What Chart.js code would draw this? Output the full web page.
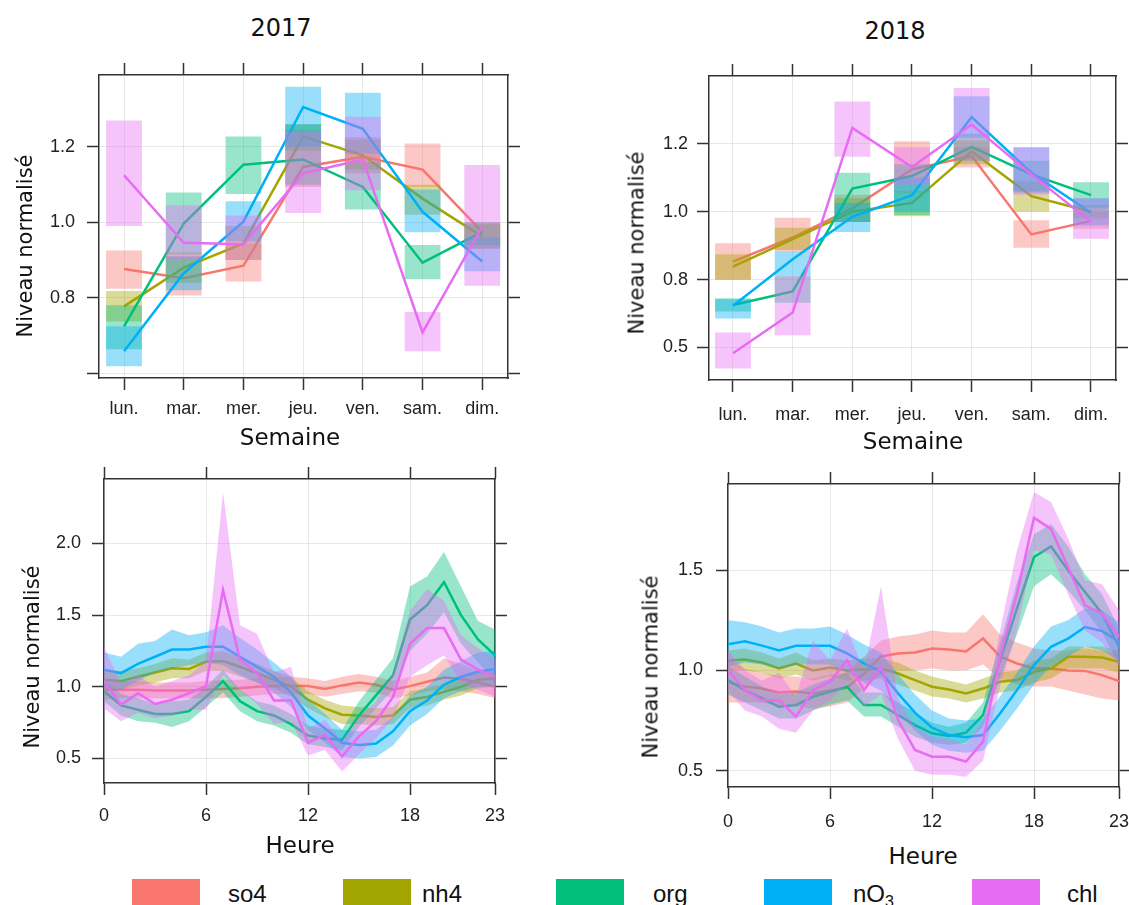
<!DOCTYPE html>
<html>
<head>
<meta charset="utf-8">
<script src="https://cdn.jsdelivr.net/npm/chart.js@4.4.1/dist/chart.umd.min.js"></script>
<style>
  body { margin: 0; background: #fff; width: 1129px; height: 905px; overflow: hidden; position: relative; }
  canvas { position: absolute; }
  .lbl { position: absolute; white-space: nowrap; color: #111; font-family: "DejaVu Sans", sans-serif; transform: translate(-50%, -50%); line-height: 1; }
  .ylab { transform: translate(-50%, -50%) rotate(-90deg); font-size: 21px; }
  .xlab { font-size: 23px; }
  .ttl { font-size: 24px; }
  .lgbox { position: absolute; top: 879px; width: 68px; height: 30px; }
  .lgtxt { position: absolute; top: 882px; font-family: "Liberation Sans", sans-serif; font-size: 24px; line-height: 24px; color: #111; }
  .lgtxt sub { font-size: 16px; vertical-align: -5px; }
</style>
</head>
<body>
<canvas id="sem17"></canvas>
<canvas id="sem18"></canvas>
<canvas id="heure17"></canvas>
<canvas id="heure18"></canvas>

<div class="lbl ttl" style="left:281px; top:28px;">2017</div>
<div class="lbl ttl" style="left:895px; top:31px;">2018</div>
<div class="lbl ylab" style="left:25px; top:246px;">Niveau normalisé</div>
<div class="lbl ylab" style="left:637px; top:243px;">Niveau normalisé</div>
<div class="lbl ylab" style="left:32px; top:657px;">Niveau normalisé</div>
<div class="lbl ylab" style="left:651px; top:667px;">Niveau normalisé</div>
<div class="lbl xlab" style="left:290px; top:437px;">Semaine</div>
<div class="lbl xlab" style="left:913px; top:441px;">Semaine</div>
<div class="lbl xlab" style="left:300px; top:845px;">Heure</div>
<div class="lbl xlab" style="left:923px; top:856px;">Heure</div>
<div id="legende"></div>

<script>
// séries
const seriesNames = ['so4', 'nh4', 'org', 'nO<sub>3</sub>', 'chl'];
const colors = ['#F8766D', '#A3A500', '#00BF7D', '#00B0F6', '#E76BF3'];

// --- semaine ---
const jours = ['lun.', 'mar.', 'mer.', 'jeu.', 'ven.', 'sam.', 'dim.'];
const joursIdx = [0, 1, 2, 3, 4, 5, 6];

// 2017 semaine : moyenne, bas, haut
const so4Sem17 = [0.876, 0.852, 0.885, 1.147, 1.174, 1.140, 0.975];
const so4Sem17Lo = [0.824, 0.806, 0.843, 1.094, 1.130, 1.094, 0.930];
const so4Sem17Hi = [0.925, 0.909, 0.944, 1.246, 1.226, 1.209, 1.000];
const nh4Sem17 = [0.777, 0.880, 0.944, 1.228, 1.178, 1.063, 0.962];
const nh4Sem17Lo = [0.737, 0.840, 0.900, 1.190, 1.140, 1.020, 0.930];
const nh4Sem17Hi = [0.818, 0.920, 0.990, 1.260, 1.220, 1.100, 0.995];
const orgSem17 = [0.724, 0.997, 1.153, 1.167, 1.094, 0.893, 0.975];
const orgSem17Lo = [0.663, 0.915, 1.075, 1.100, 1.034, 0.849, 0.940];
const orgSem17Hi = [0.780, 1.079, 1.228, 1.260, 1.160, 0.940, 1.000];
const no3Sem17 = [0.658, 0.865, 1.002, 1.306, 1.248, 1.028, 0.896];
const no3Sem17Lo = [0.618, 0.820, 0.949, 1.200, 1.182, 0.974, 0.870];
const no3Sem17Hi = [0.724, 0.910, 1.056, 1.360, 1.344, 1.087, 0.960];
const chlSem17 = [1.125, 0.946, 0.942, 1.130, 1.167, 0.708, 0.989];
const chlSem17Lo = [0.990, 0.900, 0.900, 1.025, 1.085, 0.658, 0.832];
const chlSem17Hi = [1.270, 1.045, 1.018, 1.240, 1.280, 0.762, 1.152];

// 2018 semaine
const so4Sem18 = [0.853, 0.924, 1.010, 1.125, 1.164, 0.933, 0.973];
const so4Sem18Lo = [0.799, 0.884, 0.970, 1.056, 1.130, 0.894, 0.950];
const so4Sem18Hi = [0.907, 0.982, 1.050, 1.208, 1.190, 0.975, 1.000];
const nh4Sem18 = [0.838, 0.919, 1.000, 1.026, 1.178, 1.046, 1.000];
const nh4Sem18Lo = [0.800, 0.887, 0.970, 0.987, 1.140, 1.000, 0.980];
const nh4Sem18Hi = [0.875, 0.953, 1.040, 1.060, 1.210, 1.090, 1.020];
const orgSem18 = [0.725, 0.765, 1.068, 1.105, 1.191, 1.110, 1.049];
const orgSem18Lo = [0.706, 0.732, 0.970, 0.990, 1.150, 1.060, 1.012];
const orgSem18Hi = [0.745, 0.810, 1.115, 1.140, 1.230, 1.150, 1.087];
const no3Sem18 = [0.723, 0.860, 0.985, 1.049, 1.279, 1.115, 0.997];
const no3Sem18Lo = [0.685, 0.810, 0.940, 1.000, 1.218, 1.056, 0.960];
const no3Sem18Hi = [0.742, 0.884, 1.026, 1.100, 1.340, 1.190, 1.040];
const chlSem18 = [0.583, 0.703, 1.247, 1.132, 1.257, 1.110, 0.970];
const chlSem18Lo = [0.538, 0.636, 1.162, 1.080, 1.150, 1.050, 0.920];
const chlSem18Hi = [0.644, 0.810, 1.325, 1.190, 1.365, 1.190, 1.040];

// --- heure ---
const heures = [0, 1, 2, 3, 4, 5, 6, 7, 8, 9, 10, 11, 12, 13, 14, 15, 16, 17, 18, 19, 20, 21, 22, 23];
const heureTicks = [0, 6, 12, 18, 23];

// 2017 heure
const so4H17 = [0.98, 0.98, 0.98, 0.975, 0.975, 0.975, 0.98, 0.985, 0.99, 1.0, 1.005, 1.007, 1.005, 0.985, 1.01, 1.03, 1.015, 0.98, 1.005, 1.035, 1.065, 1.055, 1.03, 1.0];
const so4H17Lo = [0.91, 0.92, 0.92, 0.92, 0.92, 0.92, 0.92, 0.92, 0.93, 0.94, 0.95, 0.95, 0.95, 0.93, 0.95, 0.97, 0.96, 0.92, 0.94, 0.97, 0.98, 0.97, 0.95, 0.92];
const so4H17Hi = [1.05, 1.04, 1.04, 1.03, 1.03, 1.03, 1.04, 1.05, 1.05, 1.06, 1.07, 1.07, 1.06, 1.04, 1.07, 1.09, 1.07, 1.04, 1.07, 1.1, 1.2, 1.16, 1.11, 1.08];
const nh4H17 = [1.05, 1.04, 1.07, 1.1, 1.13, 1.125, 1.175, 1.18, 1.14, 1.095, 1.05, 1.0, 0.91, 0.85, 0.805, 0.8, 0.79, 0.8, 0.91, 0.93, 0.965, 1.0, 1.05, 1.06];
const nh4H17Lo = [0.98, 0.98, 1.01, 1.03, 1.06, 1.06, 1.11, 1.11, 1.07, 1.03, 0.99, 0.93, 0.85, 0.79, 0.74, 0.74, 0.73, 0.74, 0.85, 0.87, 0.91, 0.94, 0.99, 1.0];
const nh4H17Hi = [1.12, 1.11, 1.13, 1.16, 1.2, 1.19, 1.24, 1.25, 1.21, 1.16, 1.11, 1.07, 0.97, 0.91, 0.87, 0.86, 0.85, 0.86, 0.97, 0.99, 1.02, 1.06, 1.11, 1.12];
const orgH17 = [0.97, 0.87, 0.84, 0.81, 0.81, 0.83, 0.93, 1.04, 0.9, 0.83, 0.8, 0.74, 0.66, 0.64, 0.63, 0.8, 0.94, 1.08, 1.47, 1.57, 1.73, 1.5, 1.33, 1.22];
const orgH17Lo = [0.9, 0.8, 0.76, 0.75, 0.72, 0.76, 0.86, 0.96, 0.83, 0.76, 0.73, 0.68, 0.6, 0.58, 0.56, 0.72, 0.85, 0.98, 1.25, 1.37, 1.52, 1.3, 1.17, 1.05];
const orgH17Hi = [1.05, 0.95, 0.92, 0.88, 0.9, 0.91, 1.0, 1.12, 0.98, 0.9, 0.87, 0.81, 0.73, 0.71, 0.7, 0.9, 1.05, 1.2, 1.7, 1.77, 1.94, 1.7, 1.46, 1.4];
const no3H17 = [1.12, 1.095, 1.16, 1.21, 1.26, 1.26, 1.28, 1.28, 1.21, 1.14, 1.07, 0.96, 0.8, 0.71, 0.61, 0.595, 0.605, 0.69, 0.83, 0.905, 1.015, 1.07, 1.105, 1.125];
const no3H17Lo = [1.0, 0.98, 1.04, 1.1, 1.13, 1.15, 1.17, 1.15, 1.08, 1.03, 0.96, 0.86, 0.7, 0.61, 0.51, 0.5, 0.51, 0.59, 0.73, 0.81, 0.92, 0.97, 1.0, 1.0];
const no3H17Hi = [1.24, 1.21, 1.3, 1.32, 1.4, 1.36, 1.38, 1.43, 1.34, 1.26, 1.17, 1.07, 0.91, 0.81, 0.7, 0.69, 0.7, 0.79, 0.94, 1.0, 1.12, 1.18, 1.24, 1.25];
const chlH17 = [1.04, 0.875, 0.955, 0.88, 0.91, 0.955, 1.005, 1.675, 1.19, 1.095, 0.905, 0.905, 0.61, 0.665, 0.513, 0.655, 0.76, 0.93, 1.3, 1.41, 1.41, 1.19, 1.12, 1.07];
const chlH17Lo = [0.85, 0.76, 0.82, 0.78, 0.8, 0.84, 0.84, 1.08, 0.98, 0.88, 0.74, 0.76, 0.52, 0.56, 0.41, 0.53, 0.64, 0.78, 1.07, 1.15, 1.22, 1.03, 0.98, 0.93];
const chlH17Hi = [1.28, 1.02, 1.08, 1.0, 1.04, 1.08, 1.18, 2.36, 1.43, 1.37, 1.1, 1.14, 0.71, 0.77, 0.62, 0.79, 0.9, 1.1, 1.53, 1.68, 1.6, 1.36, 1.27, 1.2];

// 2018 heure
const so4H18 = [0.94, 0.92, 0.91, 0.89, 0.895, 0.885, 0.9, 0.915, 0.985, 1.07, 1.085, 1.09, 1.11, 1.105, 1.095, 1.16, 1.07, 1.035, 1.01, 1.01, 1.0, 0.998, 0.977, 0.947];
const so4H18Lo = [0.84, 0.84, 0.84, 0.82, 0.82, 0.81, 0.82, 0.84, 0.91, 0.98, 1.0, 1.0, 1.01, 1.0, 1.0, 1.03, 0.96, 0.93, 0.92, 0.92, 0.9, 0.88, 0.86, 0.85];
const so4H18Hi = [1.06, 1.01, 0.99, 0.97, 0.97, 0.96, 0.98, 0.99, 1.07, 1.15, 1.17, 1.18, 1.2, 1.19, 1.19, 1.28, 1.18, 1.14, 1.11, 1.1, 1.1, 1.11, 1.1, 1.08];
const nh4H18 = [1.05, 1.055, 1.04, 1.01, 1.035, 1.0, 1.015, 1.0, 1.005, 1.01, 0.985, 0.952, 0.919, 0.905, 0.886, 0.91, 0.944, 0.952, 0.993, 1.01, 1.068, 1.068, 1.065, 1.043];
const nh4H18Lo = [1.0, 1.0, 0.99, 0.96, 0.98, 0.95, 0.97, 0.95, 0.95, 0.96, 0.93, 0.9, 0.87, 0.86, 0.84, 0.86, 0.89, 0.9, 0.94, 0.96, 1.01, 1.01, 1.01, 0.99];
const nh4H18Hi = [1.1, 1.11, 1.09, 1.06, 1.09, 1.05, 1.06, 1.05, 1.06, 1.06, 1.04, 1.0, 0.97, 0.95, 0.93, 0.96, 0.99, 1.0, 1.05, 1.06, 1.12, 1.12, 1.12, 1.1];
const orgH18 = [0.952, 0.902, 0.861, 0.819, 0.828, 0.869, 0.894, 0.919, 0.828, 0.828, 0.778, 0.728, 0.687, 0.673, 0.69, 0.778, 1.05, 1.31, 1.566, 1.619, 1.5, 1.391, 1.284, 1.118];
const orgH18Lo = [0.88, 0.84, 0.8, 0.76, 0.76, 0.8, 0.83, 0.85, 0.77, 0.77, 0.72, 0.67, 0.64, 0.63, 0.64, 0.72, 0.96, 1.18, 1.42, 1.48, 1.4, 1.3, 1.19, 1.03];
const orgH18Hi = [1.02, 0.97, 0.92, 0.88, 0.89, 0.93, 0.96, 0.99, 0.89, 0.89, 0.84, 0.79, 0.74, 0.72, 0.74, 0.84, 1.14, 1.44, 1.68, 1.73, 1.62, 1.48, 1.38, 1.21];
const no3H18 = [1.131, 1.146, 1.124, 1.1, 1.123, 1.123, 1.123, 1.085, 1.035, 0.993, 0.886, 0.79, 0.715, 0.678, 0.667, 0.678, 0.786, 0.902, 1.027, 1.118, 1.159, 1.217, 1.197, 1.143];
const no3H18Lo = [1.02, 1.04, 1.03, 1.01, 1.03, 1.03, 1.03, 0.99, 0.94, 0.9, 0.79, 0.7, 0.63, 0.6, 0.59, 0.6, 0.7, 0.81, 0.93, 1.02, 1.07, 1.12, 1.1, 1.05];
const no3H18Hi = [1.25, 1.24, 1.22, 1.19, 1.21, 1.21, 1.22, 1.18, 1.13, 1.09, 0.98, 0.88, 0.8, 0.76, 0.75, 0.76, 0.87, 0.99, 1.12, 1.22, 1.25, 1.31, 1.3, 1.24];
const chlH18 = [1.0, 0.902, 0.852, 0.852, 0.77, 0.902, 0.944, 1.051, 0.902, 1.018, 0.753, 0.604, 0.57, 0.57, 0.546, 0.645, 1.068, 1.383, 1.761, 1.706, 1.516, 1.325, 1.284, 1.167];
const chlH18Lo = [0.9, 0.8, 0.77, 0.71, 0.69, 0.8, 0.85, 0.93, 0.82, 0.88, 0.66, 0.5, 0.48, 0.48, 0.47, 0.55, 0.92, 1.2, 1.6, 1.58, 1.38, 1.2, 1.14, 1.02];
const chlH18Hi = [1.1, 1.0, 0.95, 0.99, 0.87, 1.15, 1.05, 1.21, 1.0, 1.42, 0.86, 0.72, 0.67, 0.66, 0.63, 0.75, 1.2, 1.6, 1.89, 1.84, 1.66, 1.45, 1.43, 1.3];

// graduations de l'axe y
const ySem17Ticks = [0.6, 0.8, 1.0, 1.2];
const ySem17Labels = ['', '0.8', '1.0', '1.2'];
const ySem18Ticks = [0.6, 0.8, 1.0, 1.2];
const ySem18Labels = ['0.5', '0.8', '1.0', '1.2'];
const yH17Ticks = [0.5, 1.0, 1.5, 2.0];
const yH17Labels = ['0.5', '1.0', '1.5', '2.0'];
const yH18Ticks = [0.5, 1.0, 1.5];
const yH18Labels = ['0.5', '1.0', '1.5'];

function fade(hex) {
    const n = parseInt(hex.slice(1), 16);
    return 'rgba(' + (n >> 16) + ',' + ((n >> 8) & 255) + ',' + (n & 255) + ',0.4)';
}

function semaineSets(means, lows, highs) {
    const sets = [];
    means.forEach((m, s) => {
        sets.push({
            type: 'bar',
            data: joursIdx.map(i => ({x: i, y: [lows[s][i], highs[s][i]]})),
            backgroundColor: fade(colors[s]),
            borderWidth: 0,
            grouped: false,
            barPercentage: 0.6,
            categoryPercentage: 1,
            order: -sets.length
        });
        sets.push({
            type: 'line',
            data: joursIdx.map(i => ({x: i, y: m[i]})),
            borderColor: colors[s],
            borderWidth: 2.5,
            pointRadius: 0,
            fill: false,
            order: -sets.length
        });
    });
    return sets;
}

function heureSets(means, lows, highs) {
    const sets = [];
    means.forEach((m, s) => {
        // bande haut -> remplie jusqu'a la bande bas
        sets.push({
            data: heures.map(h => ({x: h, y: highs[s][h]})),
            borderColor: 'transparent', borderWidth: 0, pointRadius: 0,
            fill: '+1', backgroundColor: fade(colors[s]),
            order: -sets.length
        });
        sets.push({
            data: heures.map(h => ({x: h, y: lows[s][h]})),
            borderColor: 'transparent', borderWidth: 0, pointRadius: 0,
            fill: false,
            order: -sets.length
        });
        sets.push({
            data: heures.map(h => ({x: h, y: m[h]})),
            borderColor: colors[s], borderWidth: 2.5, pointRadius: 0,
            fill: false,
            order: -sets.length
        });
    });
    return sets;
}

const axisCol = '#333';
const gridCol = 'rgba(0,0,0,0.09)';
const tickFont = {family: 'Liberation Sans', size: 18};

function panneau(id, area, cfg) {
    const wL = 90, hT = 14, wR = 14, hB = 50;
    const cv = document.getElementById(id);
    const w = area.r - area.l + wL + wR;
    const h = area.b - area.t + hT + hB;
    cv.style.left = (area.l - wL) + 'px';
    cv.style.top = (area.t - hT) + 'px';
    cv.width = w; cv.height = h;
    cv.style.width = w + 'px'; cv.style.height = h + 'px';

    const setX = s => { s.ticks = cfg.xTicks.map(v => ({value: v})); };
    const setY = s => { s.ticks = cfg.yTicks.map(v => ({value: v})); };
    // tailles fixes, sans marge ajoutée par les étiquettes
    const fitH = size => s => { s.height = size; s.paddingLeft = 0; s.paddingRight = 0; };
    const fitW = size => s => { s.width = size; s.paddingTop = 0; s.paddingBottom = 0; };
    const tickMarks = {drawOnChartArea: false, offset: false, tickColor: axisCol, tickLength: 12, tickWidth: 1.5};
    const bord = {color: axisCol, width: 1.5};

    return new Chart(cv, {
        type: 'line',
        data: {datasets: cfg.datasets},
        options: {
            responsive: false,
            animation: false,
            events: [],
            layout: {padding: 0},
            plugins: {legend: {display: false}, tooltip: {enabled: false}},
            scales: {
                x: {
                    type: 'linear', position: 'bottom', min: cfg.xMin, max: cfg.xMax, offset: false,
                    afterBuildTicks: setX,
                    afterFit: fitH(hB),
                    ticks: {callback: cfg.xLabel, font: tickFont, color: '#222', padding: cfg.xPad, maxRotation: 0, autoSkip: false},
                    grid: {color: gridCol, lineWidth: 1, offset: false, tickColor: axisCol, tickLength: 12, tickWidth: 1.5},
                    border: bord
                },
                x2: {
                    type: 'linear', position: 'top', min: cfg.xMin, max: cfg.xMax, offset: false,
                    afterBuildTicks: setX,
                    afterFit: fitH(hT),
                    ticks: {display: false},
                    grid: tickMarks,
                    border: bord
                },
                y: {
                    type: 'linear', position: 'left', min: cfg.yMin, max: cfg.yMax, offset: false,
                    afterBuildTicks: setY,
                    afterFit: fitW(wL),
                    ticks: {callback: (v, i) => cfg.yLabels[i], font: tickFont, color: '#222', padding: cfg.yPad},
                    grid: {color: gridCol, lineWidth: 1, offset: false, tickColor: axisCol, tickLength: 12, tickWidth: 1.5},
                    border: bord
                },
                y2: {
                    type: 'linear', position: 'right', min: cfg.yMin, max: cfg.yMax, offset: false,
                    afterBuildTicks: setY,
                    afterFit: fitW(wR),
                    ticks: {display: false},
                    grid: tickMarks,
                    border: bord
                }
            }
        }
    });
}

panneau('sem17', {l: 99, t: 75, r: 508, b: 378}, {
    datasets: semaineSets(
        [so4Sem17, nh4Sem17, orgSem17, no3Sem17, chlSem17],
        [so4Sem17Lo, nh4Sem17Lo, orgSem17Lo, no3Sem17Lo, chlSem17Lo],
        [so4Sem17Hi, nh4Sem17Hi, orgSem17Hi, no3Sem17Hi, chlSem17Hi]),
    xMin: -0.419, xMax: 6.431, xTicks: joursIdx, xLabel: v => jours[v], xPad: 8,
    yMin: 0.587, yMax: 1.391, yTicks: ySem17Ticks, yLabels: ySem17Labels, yPad: 12
});

panneau('sem18', {l: 709, t: 76, r: 1116, b: 380}, {
    datasets: semaineSets(
        [so4Sem18, nh4Sem18, orgSem18, no3Sem18, chlSem18],
        [so4Sem18Lo, nh4Sem18Lo, orgSem18Lo, no3Sem18Lo, chlSem18Lo],
        [so4Sem18Hi, nh4Sem18Hi, orgSem18Hi, no3Sem18Hi, chlSem18Hi]),
    xMin: -0.402, xMax: 6.419, xTicks: joursIdx, xLabel: v => jours[v], xPad: 12,
    yMin: 0.504, yMax: 1.400, yTicks: ySem18Ticks, yLabels: ySem18Labels, yPad: 9
});

panneau('heure17', {l: 104, t: 479, r: 495, b: 783}, {
    datasets: heureSets(
        [so4H17, nh4H17, orgH17, no3H17, chlH17],
        [so4H17Lo, nh4H17Lo, orgH17Lo, no3H17Lo, chlH17Lo],
        [so4H17Hi, nh4H17Hi, orgH17Hi, no3H17Hi, chlH17Hi]),
    xMin: 0, xMax: 23, xTicks: heureTicks, xLabel: v => String(v), xPad: 10,
    yMin: 0.329, yMax: 2.45, yTicks: yH17Ticks, yLabels: yH17Labels, yPad: 11
});

panneau('heure18', {l: 728, t: 484, r: 1119, b: 787}, {
    datasets: heureSets(
        [so4H18, nh4H18, orgH18, no3H18, chlH18],
        [so4H18Lo, nh4H18Lo, orgH18Lo, no3H18Lo, chlH18Lo],
        [so4H18Hi, nh4H18Hi, orgH18Hi, no3H18Hi, chlH18Hi]),
    xMin: 0, xMax: 23, xTicks: heureTicks, xLabel: v => String(v), xPad: 12,
    yMin: 0.419, yMax: 1.930, yTicks: yH18Ticks, yLabels: yH18Labels, yPad: 13
});

// légende commune
const lgBoxLeft = [132, 343, 556, 764, 972];
const lgTxtLeft = [228, 422, 653, 853, 1067];
const legende = document.getElementById('legende');
seriesNames.forEach((nom, s) => {
    const b = document.createElement('div');
    b.className = 'lgbox';
    b.style.left = lgBoxLeft[s] + 'px';
    b.style.background = colors[s];
    legende.appendChild(b);
    const t = document.createElement('div');
    t.className = 'lgtxt';
    t.style.left = lgTxtLeft[s] + 'px';
    t.innerHTML = nom;
    legende.appendChild(t);
});
</script>
</body>
</html>
